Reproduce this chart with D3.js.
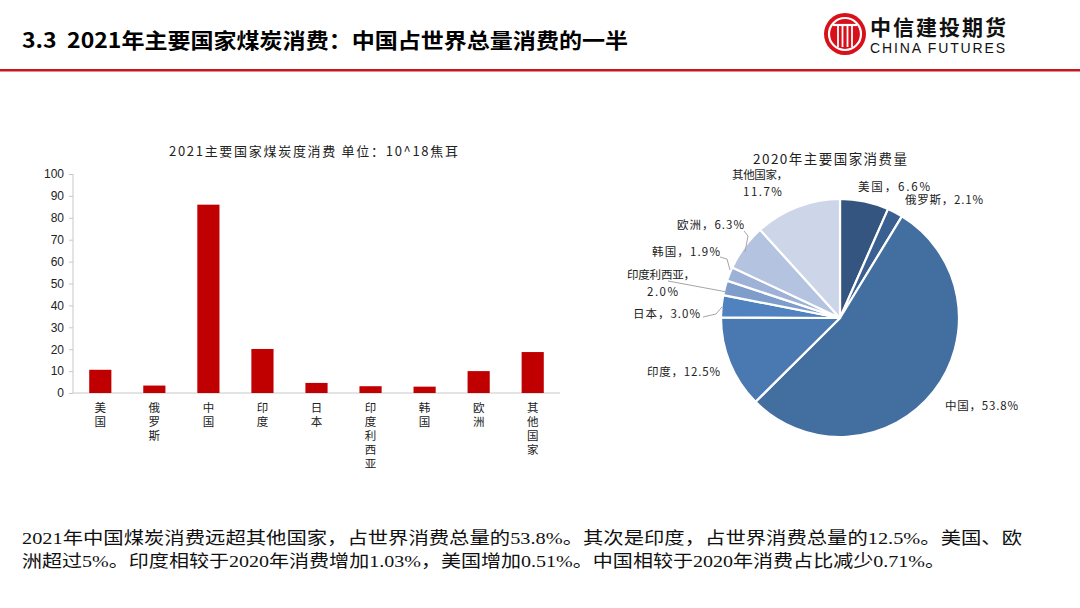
<!DOCTYPE html>
<html><head><meta charset="utf-8">
<script src="https://cdn.jsdelivr.net/npm/d3@7"></script>
<style>
body{margin:0;background:#fff;}
svg{display:block;}
</style></head>
<body>
<svg id="c" width="1080" height="608"></svg>
<script>
// ---- data ----
const barCategories = ["美国","俄罗斯","中国","印度","日本","印度利西亚","韩国","欧洲","其他国家"];
const barValues = [10.6, 3.4, 86, 20.1, 4.6, 3.1, 2.9, 10.0, 18.7];
const yTicks = [0,10,20,30,40,50,60,70,80,90,100];
const pieCategories = ["美国","俄罗斯","中国","印度","日本","印度利西亚","韩国","欧洲","其他国家"];
const pieValues = [6.6, 2.1, 53.8, 12.5, 3.0, 2.0, 1.9, 6.3, 11.7];
const pieLabelLines = [["美国，6.6%"],["俄罗斯，2.1%"],["中国，53.8%"],["印度，12.5%"],["日本，3.0%"],["印度利西亚，","2.0%"],["韩国，1.9%"],["欧洲，6.3%"],["其他国家，","11.7%"]];
const barTitle = "2021主要国家煤炭度消费 单位：10^18焦耳";
const pieTitle = "2020年主要国家消费量";
const headerTitle = "3.3\u00a0\u00a02021年主要国家煤炭消费：中国占世界总量消费的一半";
const bodyLines = ["2021年中国煤炭消费远超其他国家，占世界消费总量的53.8%。其次是印度，占世界消费总量的12.5%。美国、欧",
                   "洲超过5%。印度相较于2020年消费增加1.03%，美国增加0.51%。中国相较于2020年消费占比减少0.71%。"];

// ---- layout / style ----
const pieColors = ["#34557f","#3a5f91","#436fa0","#4a79b1","#4f82be","#7e9dca","#9db2d6","#b4c3df","#cdd6e8"];
// label layout: [x, baseline y, anchor, width of first line, x of second line]
const labelPos = {
  "美国":[858,191,"start",72],"俄罗斯":[905,204,"start",78],"中国":[945,410,"start",73],"印度":[647,376,"start",73],
  "日本":[633,318,"start",67],"印度利西亚":[627,279,"start",68,647],"韩国":[652,256,"start",68],"欧洲":[677,229,"start",67],
  "其他国家":[732,179,"start",56,743]
};
const leaders = {
  "欧洲":[[744,231],[748,236],[745,252]],
  "韩国":[[720,257],[727,259],[730,270]],
  "印度利西亚":[[668,281],[727,292]],
  "日本":[[703,317],[716,314],[722,307]]
};
const cjk = "'Noto Sans CJK SC','Noto Sans',sans-serif";
const serifMix = "'Liberation Serif','Noto Sans CJK SC',serif";

const svg = d3.select("#c");

// header
svg.append("text").attr("x",22).attr("y",48).text(headerTitle)
  .attr("font-family",cjk).attr("font-weight","bold").attr("font-size",21).attr("fill","#000")
  .attr("textLength",606).attr("lengthAdjust","spacingAndGlyphs");
svg.append("rect").attr("x",0).attr("y",69).attr("width",1080).attr("height",2.5).attr("fill","#c8161d");
// logo
const lg = svg.append("g").attr("transform","translate(845,34)");
lg.append("circle").attr("r",21).attr("fill","#d7101a");
lg.append("circle").attr("r",16).attr("fill","none").attr("stroke","#fff").attr("stroke-width",2.2);
lg.append("path").attr("d","M-12,-9 L12,-9").attr("stroke","#fff").attr("stroke-width",2.2);
[-7,-2.5,2.5,7].forEach(x=>lg.append("line").attr("x1",x).attr("x2",x).attr("y1",-9).attr("y2",13).attr("stroke","#fff").attr("stroke-width",1.8));
svg.append("text").attr("x",870).attr("y",35).text("中信建投期货").attr("font-family",cjk).attr("font-weight","bold")
  .attr("font-size",21).attr("fill","#111").attr("textLength",136);
svg.append("text").attr("x",870).attr("y",53).text("CHINA FUTURES").attr("font-family","'Liberation Sans',Arial,sans-serif")
  .attr("font-size",14).attr("fill","#111").attr("textLength",135);

// ---- bar chart ----
const x = d3.scaleBand().domain(barCategories).range([73,560]).paddingInner(0.59).paddingOuter(0.3);
const y = d3.scaleLinear().domain([0,100]).range([393,174]);
svg.append("text").attr("x",169).attr("y",156).text(barTitle)
  .attr("font-family",cjk).attr("font-size",13).attr("fill","#222")
  .attr("textLength",289).attr("lengthAdjust","spacing");
const yAx = svg.append("g").attr("transform","translate(73,0)")
  .call(d3.axisLeft(y).tickValues(yTicks).tickSize(4).tickPadding(5));
yAx.select(".domain").attr("stroke","#c8c8c8").attr("d","M0,174V393");
yAx.selectAll(".tick line").attr("stroke","#c8c8c8");
yAx.selectAll(".tick text").attr("font-family","'Liberation Sans',Arial,sans-serif").attr("font-size",12).attr("fill","#222");
svg.append("line").attr("x1",73).attr("x2",560).attr("y1",y(0)).attr("y2",y(0)).attr("stroke","#c8c8c8");
svg.selectAll("rect.bar").data(barValues).join("rect").attr("class","bar")
  .attr("x",(d,i)=>x(barCategories[i])).attr("width",x.bandwidth())
  .attr("y",d=>y(d)).attr("height",d=>y(0)-y(d)).attr("fill","#c00000");
barCategories.forEach(c=>{
  const t = svg.append("text").attr("font-family",cjk).attr("font-size",11.5).attr("fill","#222").attr("text-anchor","middle");
  [...c].forEach((ch,k)=>t.append("tspan").attr("x",x(c)+x.bandwidth()/2).attr("y",412+k*14).text(ch));
});

// ---- pie chart ----
const cx=840, cy=318, R=119;
svg.append("text").attr("x",753).attr("y",164).text(pieTitle)
  .attr("font-family",cjk).attr("font-size",13.5).attr("fill","#222")
  .attr("textLength",154).attr("lengthAdjust","spacing");
const pie = d3.pie().sort(null).value(d=>d)(pieValues);
const arc = d3.arc().innerRadius(0).outerRadius(R);
const pg = svg.append("g").attr("transform",`translate(${cx},${cy})`);
pg.selectAll("path").data(pie).join("path").attr("d",arc)
  .attr("fill",(d,i)=>pieColors[i]).attr("stroke","#fff").attr("stroke-width",2.2).attr("stroke-linejoin","round");
Object.entries(leaders).forEach(([k,pts])=>{
  svg.append("polyline").attr("points",pts.map(p=>p.join(",")).join(" "))
    .attr("fill","none").attr("stroke","#a6a6a6").attr("stroke-width",1);
});
pieCategories.forEach((c,i)=>{
  const [lx,ly,anchor,w,x2] = labelPos[c];
  const lines = pieLabelLines[i];
  lines.forEach((s,k)=>{
    const t = svg.append("text").attr("font-family",cjk).attr("font-size",11.5).attr("fill","#222")
      .attr("x",k===0?lx:x2).attr("y",ly+k*17).text(s);
    if(k===0) t.attr("textLength",w).attr("lengthAdjust","spacing");
    else t.attr("letter-spacing",1.5);
  });
});

// ---- body text ----
const bodyW = [1000, 923];
bodyLines.forEach((s,k)=>{
  svg.append("text").attr("x",22).attr("y",544+k*23).text(s)
    .attr("font-family",serifMix).attr("font-size",17.5).attr("fill","#111")
    .attr("textLength",bodyW[k]).attr("lengthAdjust","spacingAndGlyphs");
});
</script>
</body></html>
